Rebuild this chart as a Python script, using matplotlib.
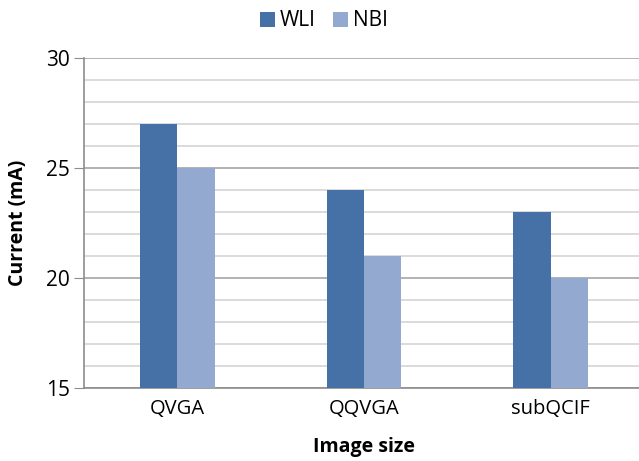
import matplotlib
matplotlib.use("Agg")
import matplotlib.pyplot as plt
import numpy as np
from matplotlib.ticker import MultipleLocator

categories = ["QVGA", "QQVGA", "subQCIF"]
wli = [27, 24, 23]
nbi = [25, 21, 20]

plt.rcParams['font.family'] = ['Open Sans', 'DejaVu Sans']

fig = plt.figure(figsize=(6.39, 4.61), dpi=100)
ax = fig.add_axes([84/639, 73/461, (644-84)/639, 330/461])

x = np.arange(len(categories))
w = 0.2
ax.bar(x - w/2, wli, width=w, color="#4571A6", label="WLI", zorder=3)
ax.bar(x + w/2, nbi, width=w, color="#93A9CF", label="NBI", zorder=3)

ax.set_xlim(-0.5, 2.5)
ax.set_ylim(15, 30)
ax.yaxis.set_major_locator(MultipleLocator(5))
ax.yaxis.set_minor_locator(MultipleLocator(1))
ax.grid(axis='y', which='major', color='#a6a6a6', linewidth=1.2, zorder=0)
ax.grid(axis='y', which='minor', color='#d4d4d4', linewidth=1.2, zorder=0)
ax.set_xticks(x)
ax.set_xticklabels(categories, fontsize=14.5)
ax.tick_params(axis='x', length=0, pad=8)
ax.tick_params(axis='y', which='major', length=7, color='#8c8c8c', labelsize=15, pad=3)
ax.tick_params(axis='y', which='minor', length=0)

for s in ['top', 'right']:
    ax.spines[s].set_visible(False)
for s in ['left', 'bottom']:
    ax.spines[s].set_color('#8c8c8c')
    ax.spines[s].set_linewidth(1.2)

ax.set_ylabel("Current (mA)", fontsize=14, fontweight='bold', labelpad=13)
ax.set_xlabel("Image size", fontsize=14, fontweight='bold', labelpad=13)

fig.legend(loc='upper center', bbox_to_anchor=(324/639, 1.0), ncol=2, frameon=False,
           fontsize=15, handlelength=0.72, handleheight=0.72, handletextpad=0.25,
           columnspacing=0.8, borderaxespad=0.1)

fig.savefig("out.png", dpi=100)
